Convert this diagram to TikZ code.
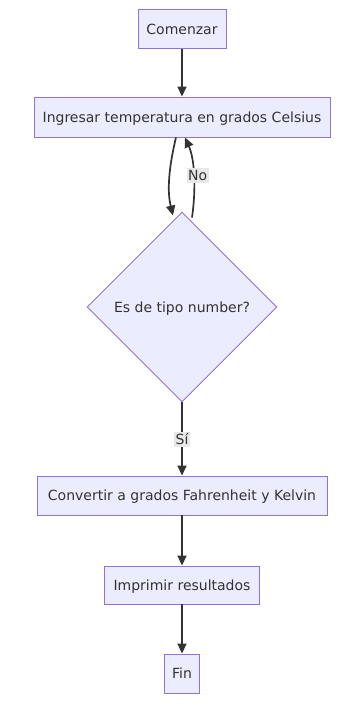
\documentclass[tikz,border=0pt]{standalone}
\usepackage{fontspec}
\setmainfont{DejaVu Sans}
\usetikzlibrary{shapes.geometric,arrows.meta,calc}
\definecolor{boxfill}{HTML}{ECECFF}
\definecolor{boxline}{HTML}{9370DB}
\definecolor{edge}{HTML}{333333}
\definecolor{lblbg}{HTML}{E8E8E8}
\begin{document}
\begin{tikzpicture}[x=1pt,y=-1pt,
  txt/.style={text=edge,font=\fontsize{14}{16}\selectfont,text height=11pt,text depth=1pt},
  stepbox/.style={txt,draw=boxline,fill=boxfill,line width=0.9pt,inner sep=0pt},
  choice/.style={txt,diamond,draw=boxline,fill=boxfill,line width=0.9pt,
    inner sep=0pt,minimum width=190pt,minimum height=190pt,aspect=1},
  flow/.style={draw=edge,line width=1.7pt,-{Triangle[length=10pt,width=9pt]}},
  lbl/.style={txt,fill=lblbg,inner sep=1.5pt}]
\useasboundingbox (0,0) rectangle (341,713);
\node[stepbox,minimum width=88pt,minimum height=39pt] (start) at (182,29) {Comenzar};
\node[stepbox,minimum width=296pt,minimum height=40pt] (input) at (182,117) {Ingresar temperatura en grados Celsius};
\node[choice] (check) at (182,307) {Es de tipo number?};
\node[stepbox,minimum width=290pt,minimum height=39pt] (conv) at (182,495.5) {Convertir a grados Fahrenheit y Kelvin};
\node[stepbox,minimum width=155pt,minimum height=38pt] (print) at (182,585) {Imprimir resultados};
\node[stepbox,minimum width=35pt,minimum height=39pt] (fin) at (182,673.5) {Fin};

\draw[flow] (start) -- (input);
\draw[flow] ($(input.south)+(-6,0)$) .. controls (167,175) and (168,195) .. ($(check.north)+(-9,4)$);
\draw[flow] ($(check.north)+(10,6)$) .. controls (196,190) and (195,160) .. ($(input.south)+(3,0)$)
  node[lbl,pos=0.5,xshift=4pt] (no) {No};
\draw[flow] (check) -- node[lbl] (si) {Sí} (conv);
\draw[flow] (conv) -- (print);
\draw[flow] (print) -- (fin);
\end{tikzpicture}
\end{document}
